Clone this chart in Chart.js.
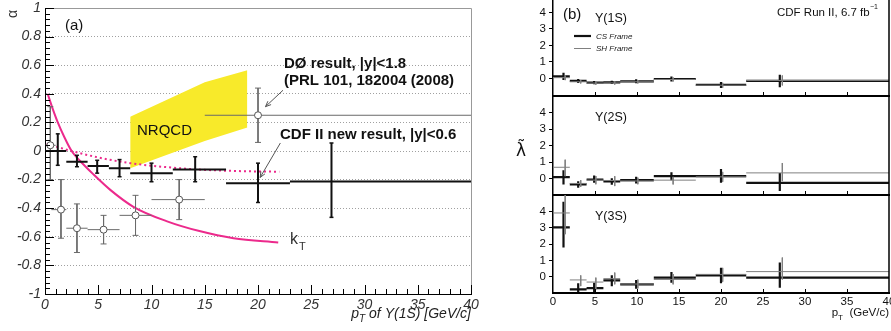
<!DOCTYPE html>
<html>
<head>
<meta charset="utf-8">
<script src="https://cdn.jsdelivr.net/npm/chart.js@4.4.1/dist/chart.umd.min.js"></script>
<style>
  html, body { margin: 0; padding: 0; background: #fff; }
  #wrap { position: relative; width: 891px; height: 331px; overflow: hidden; }
  canvas { position: absolute; }
</style>
</head>
<body>
<div id="wrap">
  <canvas id="left" width="480" height="331" style="left:0;top:0;width:480px;height:331px"></canvas>
  <canvas id="r1" width="401" height="100" style="left:490px;top:0;width:401px;height:100px"></canvas>
  <canvas id="r2" width="401" height="110" style="left:490px;top:90px;width:401px;height:110px"></canvas>
  <canvas id="r3" width="401" height="141" style="left:490px;top:190px;width:401px;height:141px"></canvas>
</div>
<script>
// ---- shared pT binning / ticks ----
const ptBinLo = [0, 2, 4, 6, 8, 12, 17, 23];
const ptBinHi = [2, 4, 6, 8, 12, 17, 23, 40];
const ptTicks = [0, 5, 10, 15, 20, 25, 30, 35, 40];
const alphaTicks = [-1, -0.8, -0.6, -0.4, -0.2, 0, 0.2, 0.4, 0.6, 0.8, 1];
const lambdaTicks = [0, 1, 2, 3, 4];

// ---- (a) CDF II new result, |y|<0.6 ----
const cdfPt = [1.2, 3.0, 4.9, 7.0, 10.0, 14.1, 20.0, 26.9];
const cdfAlpha = [0.0, -0.075, -0.105, -0.12, -0.155, -0.13, -0.225, -0.214];
const cdfUp = [0.12, 0.045, 0.04, 0.06, 0.07, 0.09, 0.14, 0.27];
const cdfDn = [0.10, 0.035, 0.05, 0.06, 0.06, 0.085, 0.135, 0.25];

// ---- (a) D0 result, |y|<1.8 ----
const d0Pt = [0.5, 1.5, 3.0, 5.5, 8.5, 12.6, 20.0];
const d0Lo = [0, 0.6, 2, 4, 7, 10, 15];
const d0Hi = [1, 2, 4, 7, 10, 15, 40];
const d0Alpha = [0.04, -0.41, -0.54, -0.55, -0.45, -0.34, 0.25];
const d0Up = [0.27, 0.21, 0.17, 0.10, 0.14, 0.14, 0.19];
const d0Dn = [0.24, 0.20, 0.17, 0.10, 0.14, 0.14, 0.19];

// ---- (a) predictions ----
const ktPt = [0.25, 0.7, 1.2, 1.8, 2.5, 3.3, 4.5, 6.1, 8.3, 11.4, 14.5, 17.7, 21.9];
const ktAlpha = [0.40, 0.30, 0.20, 0.10, 0.0, -0.07, -0.16, -0.27, -0.39, -0.49, -0.56, -0.61, -0.64];
const dotPt = [0.15, 2.5, 5, 8, 11, 14.5, 18, 22];
const dotAlpha = [0.05, 0.0, -0.045, -0.085, -0.11, -0.13, -0.14, -0.145];
const nrqcdPt = [8, 15, 19];
const nrqcdHi = [0.24, 0.48, 0.565];
const nrqcdLo = [-0.12, 0.07, 0.165];

// ---- (b) lambda-tilde, CS and SH frames ----
const csPt = [1.25, 3.0, 4.9, 7.0, 9.9, 14.1, 20.0, 27.0];
const shPt = [1.45, 3.3, 5.1, 7.35, 10.1, 14.3, 20.2, 27.3];

const ups1CS = [0.13, -0.15, -0.25, -0.23, -0.17, -0.03, -0.39, -0.15];
const ups1CSErr = [0.22, 0.12, 0.1, 0.1, 0.12, 0.15, 0.18, 0.38];
const ups1SH = [0.05, -0.2, -0.28, -0.27, -0.2, -0.06, -0.41, -0.12];
const ups1SHErr = [0.15, 0.1, 0.1, 0.1, 0.1, 0.12, 0.15, 0.3];

const ups2CS = [0.08, -0.36, -0.06, -0.18, -0.1, 0.14, 0.14, -0.26];
const ups2CSUp = [0.42, 0.2, 0.24, 0.2, 0.2, 0.24, 0.44, 0.6];
const ups2CSDn = [0.44, 0.2, 0.2, 0.2, 0.2, 0.24, 0.4, 0.5];
const ups2SH = [0.68, -0.3, -0.1, -0.12, -0.15, -0.1, 0.1, 0.34];
const ups2SHUp = [0.46, 0.2, 0.25, 0.26, 0.2, 0.2, 0.3, 0.6];
const ups2SHDn = [0.54, 0.2, 0.25, 0.34, 0.2, 0.26, 0.3, 0.5];

const ups3CS = [3.02, -0.78, -0.7, -0.23, -0.47, -0.06, 0.08, -0.06];
const ups3CSUp = [1.57, 0.37, 0.33, 0.31, 0.27, 0.34, 0.47, 0.92];
const ups3CSDn = [1.24, 0.4, 0.4, 0.35, 0.27, 0.31, 0.49, 0.62];
const ups3SH = [3.9, -0.2, -0.33, -0.12, -0.45, -0.17, 0.14, 0.31];
const ups3SHUp = [1.3, 0.28, 0.27, 0.37, 0.27, 0.33, 0.4, 0.86];
const ups3SHDn = [1.3, 0.38, 0.45, 0.35, 0.27, 0.3, 0.45, 0.48];

const FONT = "'Liberation Sans', Arial, sans-serif";
const PINK = '#ec2a8c';
Chart.defaults.font.family = FONT;
Chart.defaults.animation = false;
Chart.defaults.plugins.legend.display = false;
Chart.defaults.plugins.tooltip.enabled = false;

function zip(xs, ys) {
  return xs.map(function(x, i) { return {x: x, y: ys[i]}; });
}
// horizontal bars, one segment per bin, separated by gaps
function barsH(lo, hi, y) {
  const out = [];
  y.forEach(function(v, i) {
    out.push({x: lo[i], y: v}, {x: hi[i], y: v}, {x: hi[i], y: null});
  });
  return out;
}
function barsV(x, y, up, dn) {
  const out = [];
  y.forEach(function(v, i) {
    out.push({x: x[i], y: v + up[i]}, {x: x[i], y: v - dn[i]}, {x: x[i], y: null});
  });
  return out;
}
function lineSet(data, color, width, extra) {
  return Object.assign({data: data, showLine: true, borderColor: color, borderWidth: width,
    pointRadius: 0, spanGaps: false, fill: false}, extra || {});
}
function txt(ctx, s, x, y, font, color, align) {
  ctx.save();
  ctx.font = font;
  ctx.fillStyle = color || '#000';
  ctx.textAlign = align || 'left';
  ctx.textBaseline = 'alphabetic';
  ctx.fillText(s, x, y);
  ctx.restore();
}
function arrow(ctx, x1, y1, x2, y2) {
  const a = Math.atan2(y2 - y1, x2 - x1);
  ctx.save();
  ctx.strokeStyle = '#555';
  ctx.lineWidth = 1;
  ctx.beginPath();
  ctx.moveTo(x1, y1); ctx.lineTo(x2, y2);
  ctx.moveTo(x2 - 6 * Math.cos(a - 0.4), y2 - 6 * Math.sin(a - 0.4));
  ctx.lineTo(x2, y2);
  ctx.lineTo(x2 - 6 * Math.cos(a + 0.4), y2 - 6 * Math.sin(a + 0.4));
  ctx.stroke();
  ctx.restore();
}

// frame, inward ticks and annotations of panel (a)
const leftDecor = {
  id: 'leftDecor',
  afterDraw: function(chart) {
    const ctx = chart.ctx, area = chart.chartArea;
    const xs = chart.scales.x, ys = chart.scales.y;
    ctx.save();
    ctx.strokeStyle = '#999';
    ctx.lineWidth = 1;
    ctx.beginPath();
    ctx.moveTo(area.left, area.top + 0.5); ctx.lineTo(area.right + 0.5, area.top + 0.5);
    ctx.lineTo(area.right + 0.5, area.bottom);
    ctx.stroke();
    ctx.strokeStyle = '#000';
    ctx.beginPath();
    for (let k = 0; k <= 50; k++) {
      const py = Math.round(ys.getPixelForValue(-1 + k * 0.04)) + 0.5;
      ctx.moveTo(area.left, py); ctx.lineTo(area.left + (k % 5 === 0 ? 9 : 5), py);
    }
    for (let k = 0; k <= 40; k++) {
      const px = Math.round(xs.getPixelForValue(k)) + 0.5;
      ctx.moveTo(px, area.bottom); ctx.lineTo(px, area.bottom - (k % 5 === 0 ? 9 : 5));
    }
    ctx.stroke();
    ctx.restore();

    arrow(ctx, xs.getPixelForValue(22.35), ys.getPixelForValue(0.425), xs.getPixelForValue(20.7), ys.getPixelForValue(0.31));
    arrow(ctx, xs.getPixelForValue(22.1), ys.getPixelForValue(0.056), xs.getPixelForValue(20.2), ys.getPixelForValue(-0.185));

    txt(ctx, '(a)', 65, 30, '15px ' + FONT, '#111');
    txt(ctx, 'NRQCD', 137, 135, '15px ' + FONT, '#111');
    txt(ctx, 'DØ result, |y|<1.8', 284, 68, 'bold 15px ' + FONT, '#111');
    txt(ctx, '(PRL 101, 182004 (2008)', 284, 85, 'bold 15px ' + FONT, '#111');
    txt(ctx, 'CDF II new result, |y|<0.6', 280, 139, 'bold 15px ' + FONT, '#111');
    txt(ctx, 'k', 290, 244, '16px ' + FONT, '#333');
    txt(ctx, 'T', 299, 250, '11px ' + FONT, '#333');

    ctx.save();
    ctx.translate(12, 14);
    ctx.rotate(-Math.PI / 2);
    txt(ctx, 'α', 0, 5, '14px ' + FONT, '#333', 'center');
    ctx.restore();

    // axis title, right aligned to the frame
    const f1 = 'italic 14px ' + FONT, f2 = 'italic 10px ' + FONT;
    const rest = ' of Υ(1S) [GeV/c]';
    ctx.save();
    ctx.font = f1; const w1 = ctx.measureText('p').width, w3 = ctx.measureText(rest).width;
    ctx.font = f2; const w2 = ctx.measureText('T').width;
    ctx.restore();
    let x0 = area.right - (w1 + w2 + w3);
    txt(ctx, 'p', x0, 318, f1, '#222');
    txt(ctx, 'T', x0 + w1, 322, f2, '#222');
    txt(ctx, rest, x0 + w1 + w2, 318, f1, '#222');
  }
};

new Chart(document.getElementById('left'), {
  type: 'scatter',
  data: {
    datasets: [
      lineSet(zip(nrqcdPt, nrqcdHi), 'rgba(0,0,0,0)', 0, {fill: '+1', backgroundColor: '#f8ea2a', order: 10}),
      lineSet(zip(nrqcdPt, nrqcdLo), 'rgba(0,0,0,0)', 0, {order: 9}),
      lineSet(zip(dotPt, dotAlpha), PINK, 2, {borderDash: [2, 3], cubicInterpolationMode: 'monotone', order: 8}),
      lineSet(zip(ktPt, ktAlpha), PINK, 2, {cubicInterpolationMode: 'monotone', order: 7}),
      lineSet(barsH(d0Lo, d0Hi, d0Alpha), '#6a6a6a', 1, {order: 6}),
      lineSet(barsV(d0Pt, d0Alpha, d0Up, d0Dn), '#6a6a6a', 1,
        {pointStyle: 'line', pointRadius: 3, pointBorderColor: '#6a6a6a', pointBorderWidth: 1, order: 5}),
      lineSet(barsH(ptBinLo, ptBinHi, cdfAlpha), '#111', 2, {order: 4}),
      lineSet(barsV(cdfPt, cdfAlpha, cdfUp, cdfDn), '#111', 2,
        {pointStyle: 'line', pointRadius: 2, pointBorderColor: '#111', pointBorderWidth: 1.5, order: 3}),
      {data: zip(d0Pt, d0Alpha), pointStyle: 'circle', pointRadius: 3.5, backgroundColor: '#fff',
        borderColor: '#555', borderWidth: 1, order: 1}
    ]
  },
  options: {
    responsive: false,
    devicePixelRatio: 1,
    layout: {padding: {left: 0, right: 9, top: 8, bottom: 0}},
    scales: {
      x: {
        type: 'linear', min: 0, max: 40,
        afterBuildTicks: function(s) { s.ticks = ptTicks.map(function(v) { return {value: v}; }); },
        afterFit: function(s) { s.height = 37; s.paddingLeft = 0; s.paddingRight = 0; },
        grid: {display: false, drawTicks: false},
        border: {display: true, color: '#000', width: 1},
        ticks: {font: {size: 14, style: 'italic'}, color: '#333', padding: 3, maxRotation: 0, autoSkip: false}
      },
      y: {
        min: -1, max: 1,
        afterBuildTicks: function(s) { s.ticks = alphaTicks.map(function(v) { return {value: v}; }); },
        afterFit: function(s) { s.width = 45; s.paddingTop = 0; s.paddingBottom = 0; },
        grid: {
          drawTicks: false, lineWidth: 1,
          color: function(c) { return c.tick && Math.abs(c.tick.value) < 0.99 ? '#a0a0a0' : 'rgba(0,0,0,0)'; }
        },
        border: {display: true, color: '#000', width: 1, dash: [1, 2]},
        ticks: {font: {size: 14, style: 'italic'}, color: '#333', padding: 4, autoSkip: false,
          callback: function(v) { return String(Math.round(v * 10) / 10); }}
      }
    }
  },
  plugins: [leftDecor]
});

// ---- panel (b) ----
function lambdaPanel(id, yMin, yMax, cs, sh, xAxisH, padTop, showX, extra) {
  const decor = {
    id: 'decor_' + id,
    afterDraw: function(chart) {
      const ctx = chart.ctx, area = chart.chartArea, xs = chart.scales.x;
      ctx.save();
      ctx.strokeStyle = '#000';
      ctx.lineWidth = 1.5;
      ctx.beginPath();
      ctx.moveTo(area.right, area.top); ctx.lineTo(area.right, area.bottom);
      ctx.stroke();
      ctx.lineWidth = 2;
      ctx.beginPath();
      ctx.moveTo(area.left - 1, area.bottom); ctx.lineTo(area.right + 1, area.bottom);
      ctx.stroke();
      ctx.lineWidth = 1;
      ctx.beginPath();
      for (let v = 5; v < 40; v += 5) {
        const px = Math.round(xs.getPixelForValue(v)) + 0.5;
        ctx.moveTo(px, area.bottom); ctx.lineTo(px, area.bottom - 4);
      }
      ctx.stroke();
      ctx.restore();
      extra(ctx, area);
    }
  };
  return new Chart(document.getElementById(id), {
    type: 'scatter',
    data: {
      datasets: [
        lineSet(barsH(ptBinLo, ptBinHi, cs.y), '#111', 2.2, {order: 4}),
        lineSet(barsV(csPt, cs.y, cs.up, cs.dn), '#111', 2.2, {order: 3}),
        lineSet(barsH(ptBinLo, ptBinHi, sh.y), '#808080', 1, {order: 2}),
        lineSet(barsV(shPt, sh.y, sh.up, sh.dn), '#808080', 1, {order: 1})
      ]
    },
    options: {
      responsive: false,
      devicePixelRatio: 1,
      layout: {padding: {left: 0, right: 2, top: padTop, bottom: 0}},
      scales: {
        x: {
          type: 'linear', min: 0, max: 40,
          afterBuildTicks: function(s) { s.ticks = ptTicks.map(function(v) { return {value: v}; }); },
          afterFit: function(s) { s.height = xAxisH; s.paddingLeft = 0; s.paddingRight = 0; },
          grid: {display: false, drawTicks: false},
          border: {display: false},
          ticks: {display: showX, font: {size: 11.5}, color: '#111', padding: 2, maxRotation: 0, autoSkip: false}
        },
        y: {
          min: yMin, max: yMax,
          afterBuildTicks: function(s) { s.ticks = lambdaTicks.map(function(v) { return {value: v}; }); },
          afterFit: function(s) { s.width = 63; s.paddingTop = 0; s.paddingBottom = 0; },
          grid: {display: true, drawOnChartArea: false, drawTicks: true, tickLength: 4, color: '#000'},
          border: {display: true, color: '#000', width: 1.5},
          ticks: {font: {size: 11.5}, color: '#111', padding: 3, autoSkip: false}
        }
      }
    },
    plugins: [decor]
  });
}

lambdaPanel('r1', -1.06, 4.75,
  {y: ups1CS, up: ups1CSErr, dn: ups1CSErr}, {y: ups1SH, up: ups1SHErr, dn: ups1SHErr}, 4, 0, false,
  function(ctx) {
    txt(ctx, '(b)', 73, 19, '15px ' + FONT, '#111');
    txt(ctx, 'Υ(1S)', 105, 22, '12.5px ' + FONT, '#111');
    txt(ctx, 'CDF Run II, 6.7 fb', 287, 15.5, '11.5px ' + FONT, '#111');
    txt(ctx, '−1', 380, 9, '7px ' + FONT, '#111');
    ctx.save();
    ctx.lineWidth = 2.2; ctx.strokeStyle = '#111';
    ctx.beginPath(); ctx.moveTo(84, 36); ctx.lineTo(101, 36); ctx.stroke();
    ctx.lineWidth = 1; ctx.strokeStyle = '#808080';
    ctx.beginPath(); ctx.moveTo(84, 48.5); ctx.lineTo(101, 48.5); ctx.stroke();
    ctx.restore();
    txt(ctx, 'CS Frame', 106, 39, 'italic 8px ' + FONT, '#222');
    txt(ctx, 'SH Frame', 106, 51, 'italic 8px ' + FONT, '#222');
  });

lambdaPanel('r2', -1, 5,
  {y: ups2CS, up: ups2CSUp, dn: ups2CSDn}, {y: ups2SH, up: ups2SHUp, dn: ups2SHDn}, 5, 6, false,
  function(ctx) {
    txt(ctx, 'Υ(2S)', 105, 31, '12.5px ' + FONT, '#111');
    txt(ctx, 'λ̃', 31, 66, "17px 'DejaVu Sans', sans-serif", '#111', 'center');
  });

lambdaPanel('r3', -1, 5,
  {y: ups3CS, up: ups3CSUp, dn: ups3CSDn}, {y: ups3SH, up: ups3SHUp, dn: ups3SHDn}, 38, 5, true,
  function(ctx, area) {
    txt(ctx, 'Υ(3S)', 105, 30, '12.5px ' + FONT, '#111');
    const f1 = '11.5px ' + FONT, f2 = '8px ' + FONT, rest = '  (GeV/c)';
    ctx.save();
    ctx.font = f1; const w1 = ctx.measureText('p').width, w3 = ctx.measureText(rest).width;
    ctx.font = f2; const w2 = ctx.measureText('T').width;
    ctx.restore();
    const x0 = area.right - (w1 + w2 + w3);
    txt(ctx, 'p', x0, 125.5, f1, '#111');
    txt(ctx, 'T', x0 + w1, 129.5, f2, '#111');
    txt(ctx, rest, x0 + w1 + w2, 125.5, f1, '#111');
  });
</script>
</body>
</html>
